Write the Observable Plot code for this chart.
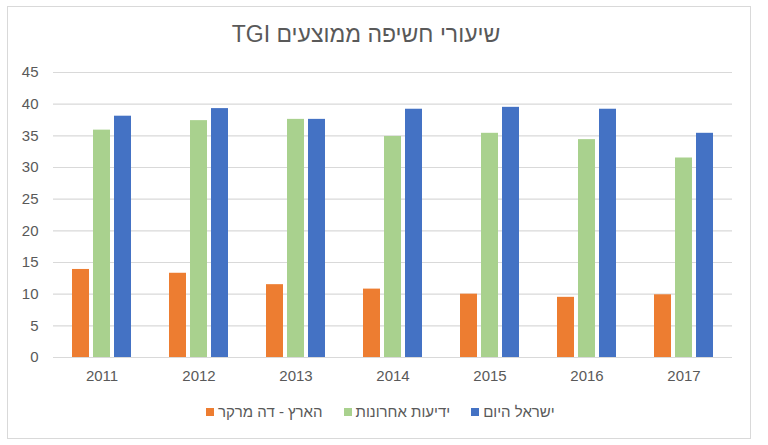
<!DOCTYPE html>
<html>
<head>
<meta charset="utf-8">
<script src="https://cdn.jsdelivr.net/npm/d3@7"></script>
<script src="https://cdn.jsdelivr.net/npm/@observablehq/plot@0.6"></script>
<style>
  html, body { margin: 0; padding: 0; background: #fff; }
  body { width: 768px; height: 445px; position: relative; overflow: hidden; font-family: "Liberation Sans", sans-serif; color: #595959; }
  #frame { position: absolute; left: 7px; top: 6px; width: 744px; height: 433px; border: 1px solid #d9d9d9; box-sizing: border-box; }
  #title { position: absolute; left: 0; width: 732px; top: 21px; text-align: center; font-size: 23px; direction: rtl; font-family: "Liberation Sans", sans-serif; }
  #chart { position: absolute; left: 0; top: 50px; }
  #legend { position: absolute; left: 206px; top: 403px; display: flex; align-items: center; font-size: 15px; font-family: "Liberation Sans", sans-serif; }
  .item { display: flex; align-items: center; margin-right: 21px; }
  .sw { width: 8px; height: 8px; margin-right: 4px; }
  .lab { direction: rtl; }
</style>
</head>
<body>
<div id="frame"></div>
<div id="title">שיעורי חשיפה ממוצעים TGI</div>
<div id="chart"></div>
<div id="legend"></div>
<script>
const years = ["2011", "2012", "2013", "2014", "2015", "2016", "2017"];
const seriesNames = ["הארץ - דה מרקר", "ידיעות אחרונות", "ישראל היום"];
const seriesColors = ["#ED7D31", "#A9D18E", "#4472C4"];
const haaretz = [13.9, 13.3, 11.5, 10.8, 10.0, 9.5, 9.9];
const yedioth = [35.9, 37.4, 37.6, 34.9, 35.4, 34.4, 31.5];
const israelHayom = [38.1, 39.3, 37.6, 39.2, 39.5, 39.2, 35.4];
const yTicks = [0, 5, 10, 15, 20, 25, 30, 35, 40, 45];

const seriesValues = [haaretz, yedioth, israelHayom];
const data = [];
years.forEach((yr, i) => {
  seriesNames.forEach((s, j) => data.push({year: yr, series: s, value: seriesValues[j][i]}));
});

const chart = Plot.plot({
  width: 768,
  height: 345,
  marginTop: 22,
  marginBottom: 38,
  marginLeft: 52,
  marginRight: 36,
  style: {fontFamily: "'Liberation Sans', sans-serif", fontSize: "15px", color: "#595959", background: "transparent"},
  fx: {domain: years, padding: 0, label: null, axis: "bottom", tickSize: 0, tickPadding: 13},
  x: {domain: seriesNames, paddingInner: 0.19, paddingOuter: 0.87, axis: null},
  y: {domain: [0, 45], ticks: yTicks, tickSize: 0, tickPadding: 15, label: null},
  color: {domain: seriesNames, range: seriesColors},
  marks: [
    Plot.ruleY(yTicks, {stroke: "#d9d9d9", strokeWidth: 1.2}),
    Plot.barY(data, {fx: "year", x: "series", y: "value", fill: "series"})
  ]
});
document.getElementById("chart").appendChild(chart);

const legend = document.getElementById("legend");
seriesNames.forEach((s, j) => {
  const item = document.createElement("div");
  item.className = "item";
  const sw = document.createElement("div");
  sw.className = "sw";
  sw.style.background = seriesColors[j];
  const lab = document.createElement("span");
  lab.className = "lab";
  lab.textContent = s;
  item.appendChild(sw);
  item.appendChild(lab);
  legend.appendChild(item);
});
</script>
</body>
</html>
